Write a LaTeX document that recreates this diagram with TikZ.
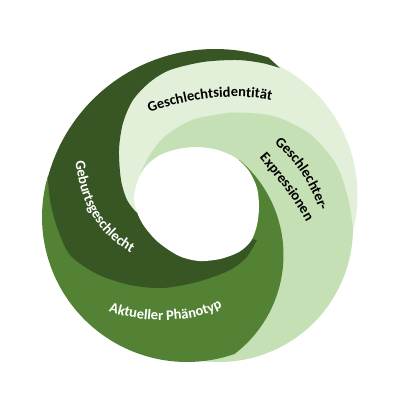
\documentclass[tikz,border=0pt]{standalone}
\usepackage{fontspec}
\setmainfont{Carlito}
\usetikzlibrary{decorations.text}
\definecolor{cdark}{HTML}{375623}
\definecolor{cmed}{HTML}{548235}
\definecolor{cexpr}{HTML}{C5E0B4}
\definecolor{cident}{HTML}{E2F0D9}
\tikzset{
  segtext/.style n args={2}{decorate, decoration={text along path, text align=center,
      text color=#1, text={|\bfseries\fontsize{14.5}{17}\selectfont|#2}}}
}
\begin{document}
\begin{tikzpicture}[x=1pt,y=-1pt]
\useasboundingbox (0,0) rectangle (405,405);
\fill[white] (0,0) rectangle (405,405);
% Geschlechtsidentitaet (bottom layer, extends under dark/expr)
\fill[cident] (280,68) -- plot[domain=-62.4:13.2, samples=50] ({212+145.5*cos(\x)},{195+145.5*sin(\x)})
  -- (320,250) -- (250,215) -- (128,215) -- (105,180) -- (108,120) -- (135,82) -- (190,60) -- (250,57) -- cycle;
% Expressionen
\fill[cexpr] (353,228) -- plot[domain=0:96.9, samples=50] ({219+134*cos(\x)},{228+134*sin(\x)})
  -- (165,310) -- (175,265) -- (195,215) -- (150,190)
  -- plot[smooth] coordinates {(141,172) (148,158) (160,141) (175,129) (195,119) (227,113) (250,113) (277,117) (310,134) (336,164) (348,198) (353,228)} -- cycle;
% Aktueller Phaenotyp
\fill[cmed] (47.8,176.3) -- plot[domain=196.3:71.1, samples=60] ({187+145*cos(\x)},{217+145*sin(\x)})
  -- plot[domain=53:-50, samples=60] ({159+124.5*cos(\x)},{255+124.5*sin(\x)})
  -- (200,205) -- (120,235) -- (62,200) -- cycle;
% Geburtsgeschlecht (exact)
\fill[cdark] plot[domain=-72:-165, samples=60] ({215+173*cos(\x)},{222+173*sin(\x)})
  -- plot[smooth] coordinates {(47.9,177.2) (50,200) (57,227) (70,255) (97,274) (130,285) (163,288) (197,282) (228,271) (246,258) (257,240)}
  -- (225,235) -- (160,225)
  -- plot[smooth] coordinates {(136,212) (127,200) (121,180) (119,150) (123,123) (133,100) (150,82) (170,70) (203,62) (237,60) (262,63) (280,68)} -- cycle;
% hole
\fill[white] plot[smooth cycle] coordinates {(134,197) (138,180) (146,166) (160,155) (178,149) (198,147) (218,150) (236,158) (249,171) (257,188) (259,207) (257,225) (251,241) (239,252) (220,259) (199,261) (179,256) (158,242) (144,226) (137,212)};
% labels
\path[segtext={black}{Geschlechtsidentität}] (132,121) .. controls (175,98) and (245,88) .. (290,106);
\path[segtext={black}{Geschlechter-}] (262,134) .. controls (292,154) and (314,185) .. (324,226);
\path[segtext={black}{Expressionen}] (249,146) .. controls (275,175) and (300,205) .. (313,236);
\path[segtext={white}{Geburtsgeschlecht}] (74,140) .. controls (76,200) and (95,240) .. (150,262);
\path[segtext={white}{Aktueller Phänotyp}] (92,304) .. controls (130,325) and (200,328) .. (238,298);
\end{tikzpicture}
\end{document}
